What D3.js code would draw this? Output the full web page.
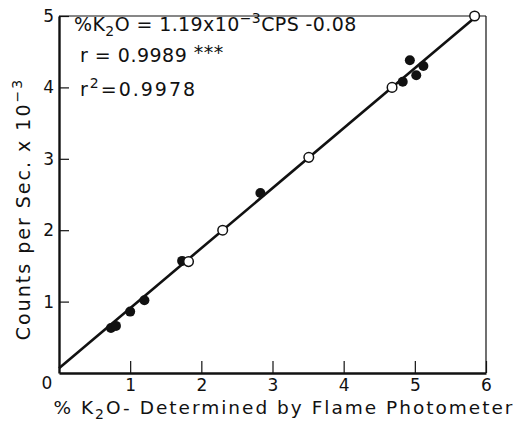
<!DOCTYPE html>
<html>
<head>
<meta charset="utf-8">
<script src="https://cdn.jsdelivr.net/npm/d3@7"></script>
<style>
  body { margin: 0; background: #fff; }
  text { font-family: "DejaVu Sans", sans-serif; fill: #111; }
</style>
</head>
<body>
<script>

// flame photometer % K2O vs counts per sec (x 10^-3)
var open_k2o    = [1.82, 2.30, 3.51, 4.68, 5.84]
var open_counts = [1.56, 2.00, 3.02, 4.00, 5.00]

var filled_k2o    = [0.73, 0.80, 1.00, 1.20, 1.73, 2.83, 4.83, 4.93, 5.02, 5.12]
var filled_counts = [0.63, 0.66, 0.86, 1.02, 1.57, 2.52, 4.08, 4.38, 4.17, 4.30]

var x_ticks = [1, 2, 3, 4, 5, 6]
var y_ticks = [1, 2, 3, 4, 5]

// regression: %K2O = 1.19e-3 CPS - 0.08
var fit_k2o = [0, 5.84]
var fit_counts = fit_k2o.map(function(k){ return (k + 0.08) / 1.19 })

var width = 514, height = 423

var svg = d3.select("body")
  .append("svg")
    .attr("width", width)
    .attr("height", height)

/******** Scales *********/

var x_scale = d3.scaleLinear()
  .domain([0, 6])
  .range([59, 486])

var y_scale = d3.scaleLinear()
  .domain([0, 5])
  .range([373, 16])

/******** Frame *********/

svg.append("line")
  .attr("x1", x_scale(0)).attr("x2", x_scale(6))
  .attr("y1", y_scale(5)).attr("y2", y_scale(5))
  .attr("stroke", "#111").attr("stroke-width", 1.2)

svg.append("line")
  .attr("x1", x_scale(6)).attr("x2", x_scale(6))
  .attr("y1", y_scale(5)).attr("y2", y_scale(0))
  .attr("stroke", "#111").attr("stroke-width", 1.2)

/******** Axes *********/

var x_axis = d3.axisBottom(x_scale)
  .tickValues(x_ticks)
  .tickSizeInner(-12)
  .tickSizeOuter(0)
  .tickPadding(6)
  .tickFormat(d3.format("d"))

var y_axis = d3.axisLeft(y_scale)
  .tickValues(y_ticks)
  .tickSizeInner(-10)
  .tickSizeOuter(0)
  .tickPadding(5)
  .tickFormat(d3.format("d"))

var gx = svg.append("g")
    .attr("transform", "translate(0," + y_scale(0) + ")")
    .call(x_axis)

var gy = svg.append("g")
    .attr("transform", "translate(" + x_scale(0) + ",0)")
    .call(y_axis)

gx.select(".domain").attr("stroke", "#111").attr("stroke-width", 2.4)
gy.select(".domain").attr("stroke", "#111").attr("stroke-width", 2.4)
gx.selectAll(".tick line").attr("stroke", "#111").attr("stroke-width", 1.2)
gy.selectAll(".tick line").attr("stroke", "#111").attr("stroke-width", 1.2)
gx.selectAll(".tick text").attr("font-size", 17).attr("font-family", "DejaVu Sans").attr("fill", "#111")
gy.selectAll(".tick text").attr("font-size", 17).attr("font-family", "DejaVu Sans").attr("fill", "#111")

svg.append("text")
  .attr("x", x_scale(0) - 12)
  .attr("y", y_scale(0) + 16)
  .attr("text-anchor", "middle")
  .attr("font-size", 17)
  .text("0")

/******** Fit line *********/

var line = d3.line()
  .x(function(d){ return x_scale(d[0]) })
  .y(function(d){ return y_scale(d[1]) })

svg.append("path")
  .attr("d", line(d3.zip(fit_k2o, fit_counts)))
  .attr("fill", "none")
  .attr("stroke", "#111")
  .attr("stroke-width", 2.6)

/******** Points *********/

svg.selectAll("circle.filled")
  .data(d3.zip(filled_k2o, filled_counts))
  .enter()
  .append("circle")
    .attr("class", "filled")
    .attr("cx", function(d){ return x_scale(d[0]) })
    .attr("cy", function(d){ return y_scale(d[1]) })
    .attr("r", 5)
    .attr("fill", "#111")

svg.selectAll("circle.open")
  .data(d3.zip(open_k2o, open_counts))
  .enter()
  .append("circle")
    .attr("class", "open")
    .attr("cx", function(d){ return x_scale(d[0]) })
    .attr("cy", function(d){ return y_scale(d[1]) })
    .attr("r", 4.8)
    .attr("fill", "#fff")
    .attr("stroke", "#111")
    .attr("stroke-width", 1.5)

/******** Annotation *********/

var eq = svg.append("text")
  .attr("x", 74).attr("y", 31)
  .attr("font-size", 19)
  .attr("letter-spacing", 0.4)
eq.append("tspan").text("%K")
eq.append("tspan").attr("dy", 5).attr("font-size", 14).text("2")
eq.append("tspan").attr("dy", -5).text("O = 1.19x10")
eq.append("tspan").attr("dy", -8).attr("font-size", 14).text("−3")
eq.append("tspan").attr("dy", 8).text("CPS -0.08")

var rt = svg.append("text")
  .attr("x", 80).attr("y", 62)
  .attr("font-size", 19)
  .attr("letter-spacing", 0.5)
rt.append("tspan").text("r = 0.9989 ")
rt.append("tspan").attr("dy", -3).text("***")

var r2 = svg.append("text")
  .attr("x", 80).attr("y", 96)
  .attr("font-size", 19)
  .attr("letter-spacing", 2)
r2.append("tspan").text("r")
r2.append("tspan").attr("dy", -8).attr("font-size", 14).text("2")
r2.append("tspan").attr("dy", 8).text("=0.9978")

/******** Axis titles *********/

var xt = svg.append("text")
  .attr("x", 284).attr("y", 414)
  .attr("text-anchor", "middle")
  .attr("font-size", 18.5)
  .attr("letter-spacing", 2)
xt.append("tspan").text("% K")
xt.append("tspan").attr("dy", 5).attr("font-size", 14).text("2")
xt.append("tspan").attr("dy", -5).text("O- Determined by Flame Photometer")

var yt = svg.append("text")
  .attr("transform", "translate(30,209) rotate(-90)")
  .attr("text-anchor", "middle")
  .attr("font-size", 19)
  .attr("letter-spacing", 2)
yt.append("tspan").text("Counts per Sec. x 10")
yt.append("tspan").attr("dy", -8).attr("font-size", 14).text("−3")

</script>
</body>
</html>
